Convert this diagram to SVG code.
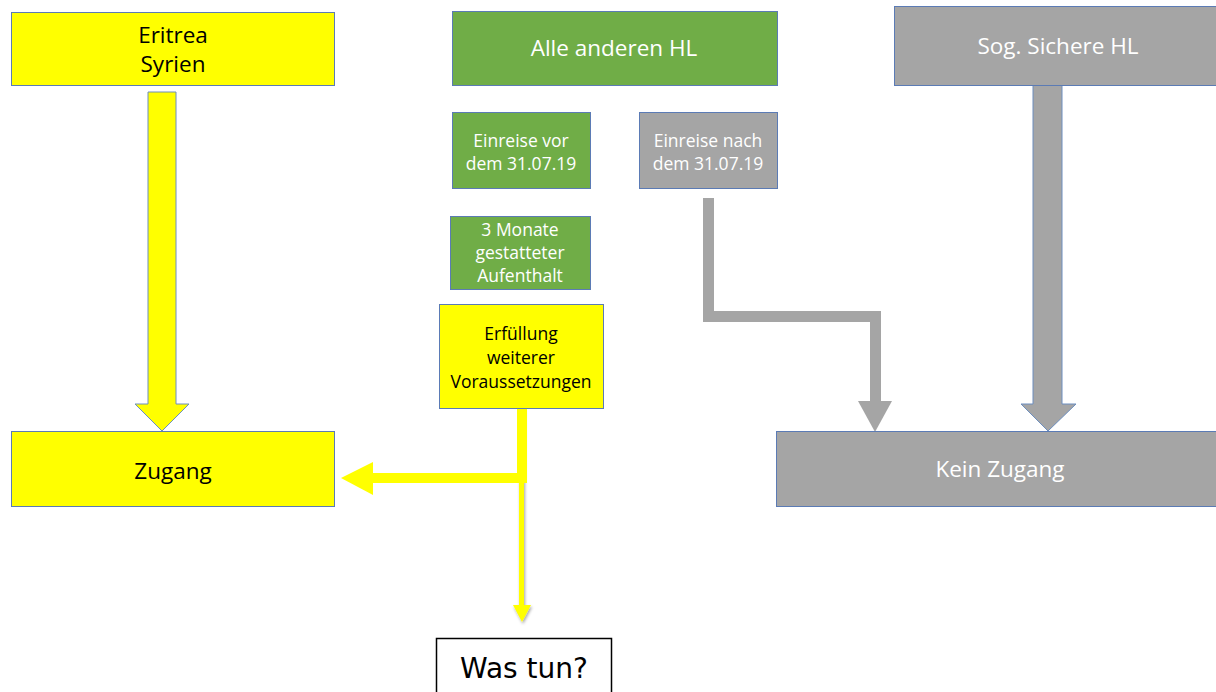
<svg xmlns="http://www.w3.org/2000/svg" width="1216" height="692" viewBox="0 0 1216 692">
<defs>
<style>
.box{stroke:#5b7bb5;stroke-width:1}
.y{fill:#ffff00}
.g{fill:#70ad47}
.gr{fill:#a5a5a5}
text{font-family:"Open Sans","Liberation Sans",Arial,sans-serif;text-anchor:middle}
.dk{fill:#000}
.wt{fill:#fff}
.big{font-size:22.5px}
.sm{font-size:17.5px}
</style>
<filter id="sh" x="-50%" y="-10%" width="200%" height="130%">
<feDropShadow dx="1" dy="2" stdDeviation="1.5" flood-color="#000" flood-opacity="0.35"/>
</filter>
</defs>
<g id="connectors">
<path d="M148,92 H176 V404 H189 L162,431 L135,404 H148 Z" fill="#ffff00" stroke="#6c8ebf" stroke-width="1"/>
<path d="M1033,85 H1062 V404 H1076 L1048,431 L1021,404 H1033 Z" fill="#a5a5a5" stroke="#6c8ebf" stroke-width="1"/>
<path d="M708.5,198 V316.5 H875.5 V402" fill="none" stroke="#a5a5a5" stroke-width="11"/>
<polygon points="858,401 892,401 875,432" fill="#a5a5a5"/>
<g filter="url(#sh)">
<line x1="521.5" y1="408" x2="521.5" y2="606" stroke="#ffff00" stroke-width="5"/>
<polygon points="513,605 531,605 522,622" fill="#ffff00"/>
</g>
<path d="M522,408 V478 H372" fill="none" stroke="#ffff00" stroke-width="10"/>
<polygon points="373,462 373,495 341,478" fill="#ffff00"/>
</g>
<g id="eritrea"><rect class="box y" x="11.5" y="12.5" width="323" height="73"/><text class="big dk" x="173" y="43">Eritrea</text><text class="big dk" x="173" y="72">Syrien</text></g>
<g id="alle"><rect class="box g" x="452.5" y="11.5" width="325" height="74"/><text class="big wt" x="614" y="56">Alle anderen HL</text></g>
<g id="sicher"><rect class="box gr" x="894.5" y="6.5" width="322" height="79"/><text class="big wt" x="1058" y="54">Sog. Sichere HL</text></g>
<g id="vor"><rect class="box g" x="452.5" y="112.5" width="138" height="76"/><text class="sm wt" x="521" y="147">Einreise vor</text><text class="sm wt" x="521" y="170">dem 31.07.19</text></g>
<g id="nach"><rect class="box gr" x="639.5" y="112.5" width="138" height="76"/><text class="sm wt" x="708" y="147">Einreise nach</text><text class="sm wt" x="708" y="170">dem 31.07.19</text></g>
<g id="monate"><rect class="box g" x="450.5" y="216.5" width="140" height="73"/><text class="sm wt" x="520" y="236">3 Monate</text><text class="sm wt" x="520" y="259">gestatteter</text><text class="sm wt" x="520" y="282">Aufenthalt</text></g>
<g id="erfuellung"><rect class="box y" x="439.5" y="304.5" width="164" height="104"/><text class="sm dk" x="521" y="340">Erfüllung</text><text class="sm dk" x="521" y="364">weiterer</text><text class="sm dk" x="521" y="388">Voraussetzungen</text></g>
<g id="zugang"><rect class="box y" x="11.5" y="431.5" width="323" height="75"/><text class="big dk" x="173" y="479">Zugang</text></g>
<g id="kein"><rect class="box gr" x="776.5" y="431.5" width="440" height="75"/><text class="big wt" x="1000" y="477">Kein Zugang</text></g>
<g id="wastun"><rect x="436.5" y="638.5" width="175" height="60" fill="#fff" stroke="#000" stroke-width="1.5"/><text x="524" y="678" style="font-size:28px;font-family:'DejaVu Sans',sans-serif" class="dk">Was tun?</text></g>
</svg>
